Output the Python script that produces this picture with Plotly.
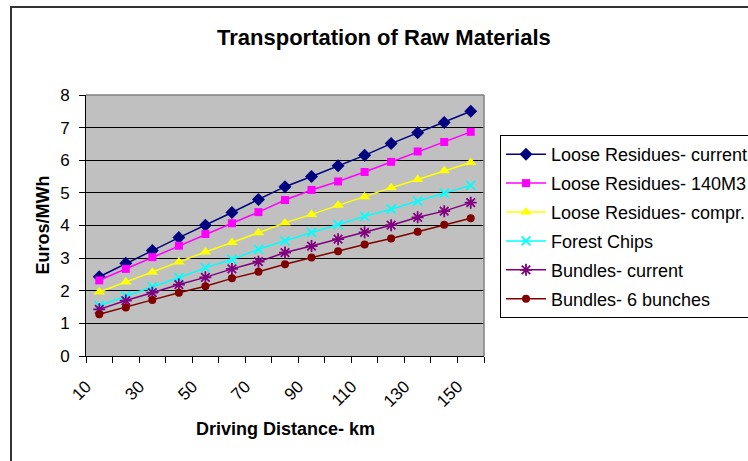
import plotly.graph_objects as go

distance_km = [10, 20, 30, 40, 50, 60, 70, 80, 90, 100, 110, 120, 130, 140, 150]
x_tick_vals = [10, 30, 50, 70, 90, 110, 130, 150]
x_tick_text = ["10", "30", "50", "70", "90", "110", "130", "150"]

loose_current = [2.43, 2.84, 3.23, 3.63, 4.01, 4.40, 4.80, 5.19, 5.50, 5.83, 6.15, 6.51, 6.84, 7.16, 7.50]
loose_140m3 = [2.32, 2.67, 3.03, 3.38, 3.74, 4.07, 4.41, 4.78, 5.09, 5.35, 5.64, 5.95, 6.27, 6.56, 6.87]
loose_compr = [1.96, 2.27, 2.57, 2.88, 3.19, 3.48, 3.78, 4.08, 4.34, 4.62, 4.88, 5.16, 5.41, 5.68, 5.93]
forest_chips = [1.54, 1.84, 2.12, 2.40, 2.71, 2.96, 3.27, 3.53, 3.79, 4.03, 4.28, 4.50, 4.75, 4.99, 5.23]
bundles_current = [1.43, 1.70, 1.94, 2.19, 2.41, 2.67, 2.89, 3.17, 3.37, 3.58, 3.79, 4.01, 4.25, 4.44, 4.70]
bundles_6 = [1.28, 1.49, 1.72, 1.94, 2.14, 2.38, 2.58, 2.81, 3.02, 3.21, 3.42, 3.60, 3.81, 4.02, 4.22]

series_names = ["Loose Residues- current", "Loose Residues- 140M3", "Loose Residues- compr.",
                "Forest Chips", "Bundles- current", "Bundles- 6 bunches"]
series_values = [loose_current, loose_140m3, loose_compr, forest_chips, bundles_current, bundles_6]
series_colors = ["#000080", "#FF00FF", "#FFFF00", "#00FFFF", "#800080", "#800000"]
series_symbols = ["diamond", "square", "triangle-up", "x-thin-open", "asterisk-open", "circle"]
series_sizes = [10, 8, 10, 9, 10, 8]

FONT = "Liberation Sans, Arial, sans-serif"

fig = go.Figure()
for i, (name, vals, col, sym, sz) in enumerate(zip(series_names, series_values, series_colors,
                                                     series_symbols, series_sizes)):
    marker = dict(symbol=sym, size=sz, color=col)
    if sym.endswith("-open"):
        marker["line"] = dict(color=col, width=1.8)
    else:
        marker["line"] = dict(width=0)
    fig.add_trace(go.Scatter(
        x=distance_km, y=vals, name=name, mode="lines+markers",
        line=dict(color=col, width=1.5), marker=marker,
        legendgroup=f"g{i}",
    ))

L, R, T, B = 86, 484, 95, 356
W, H = 748, 461

def px(x):
    return (x - L) / (R - L)

def py(y):
    return (B - y) / (B - T)

fig.update_layout(
    width=W, height=H,
    margin=dict(l=L, r=W - R, t=T, b=H - B, autoexpand=False),
    paper_bgcolor="white",
    plot_bgcolor="#C0C0C0",
    font=dict(family=FONT, color="black", size=17),
    showlegend=True,
    legend=dict(
        x=px(500), y=py(135), xanchor="left", yanchor="top",
        bgcolor="white", bordercolor="black", borderwidth=1,
        font=dict(family=FONT, size=18, color="black"),
        tracegroupgap=2.5, itemwidth=40,
    ),
    xaxis=dict(
        range=[5, 155], tickmode="array", tickvals=x_tick_vals, ticktext=x_tick_text,
        tickangle=-45, ticks="", showgrid=False, zeroline=False,
        showline=True, linecolor="black", linewidth=1,
        tickfont=dict(size=17), ticklabelstandoff=13, ticklabelshift=-13,
        minor=dict(tick0=5, dtick=10, ticks="outside", ticklen=6, tickcolor="black",
                   tickwidth=1, showgrid=False),
    ),
    yaxis=dict(
        range=[0, 8], dtick=1, ticks="outside", ticklen=6, tickcolor="black",
        showgrid=True, gridcolor="black", gridwidth=1, zeroline=False,
        showline=True, linecolor="black", linewidth=1,
        tickfont=dict(size=17), ticklabelstandoff=6,
    ),
    shapes=[
        dict(type="line", xref="paper", yref="paper", x0=0, x1=1, y0=1, y1=1,
             line=dict(color="#808080", width=1.5)),
        dict(type="line", xref="paper", yref="paper", x0=1, x1=1, y0=0, y1=1,
             line=dict(color="#808080", width=1.5)),
        dict(type="rect", xref="paper", yref="paper", x0=px(11), x1=px(800),
             y0=py(500), y1=py(7), line=dict(color="#333333", width=2),
             fillcolor="rgba(0,0,0,0)"),
    ],
    annotations=[
        dict(text="<b>Transportation of Raw Materials</b>", xref="paper", yref="paper",
             x=px(383.5), y=py(38), xanchor="center", yanchor="middle", showarrow=False,
             font=dict(family=FONT, size=22, color="black")),
        dict(text="<b>Euros/MWh</b>", xref="paper", yref="paper",
             x=px(42), y=0.5, xanchor="center", yanchor="middle", showarrow=False,
             textangle=-90, font=dict(family=FONT, size=18, color="black")),
        dict(text="<b>Driving Distance- km</b>", xref="paper", yref="paper",
             x=0.5, y=py(429), xanchor="center", yanchor="middle", showarrow=False,
             font=dict(family=FONT, size=18, color="black")),
    ],
)

fig.write_html("out.html")
